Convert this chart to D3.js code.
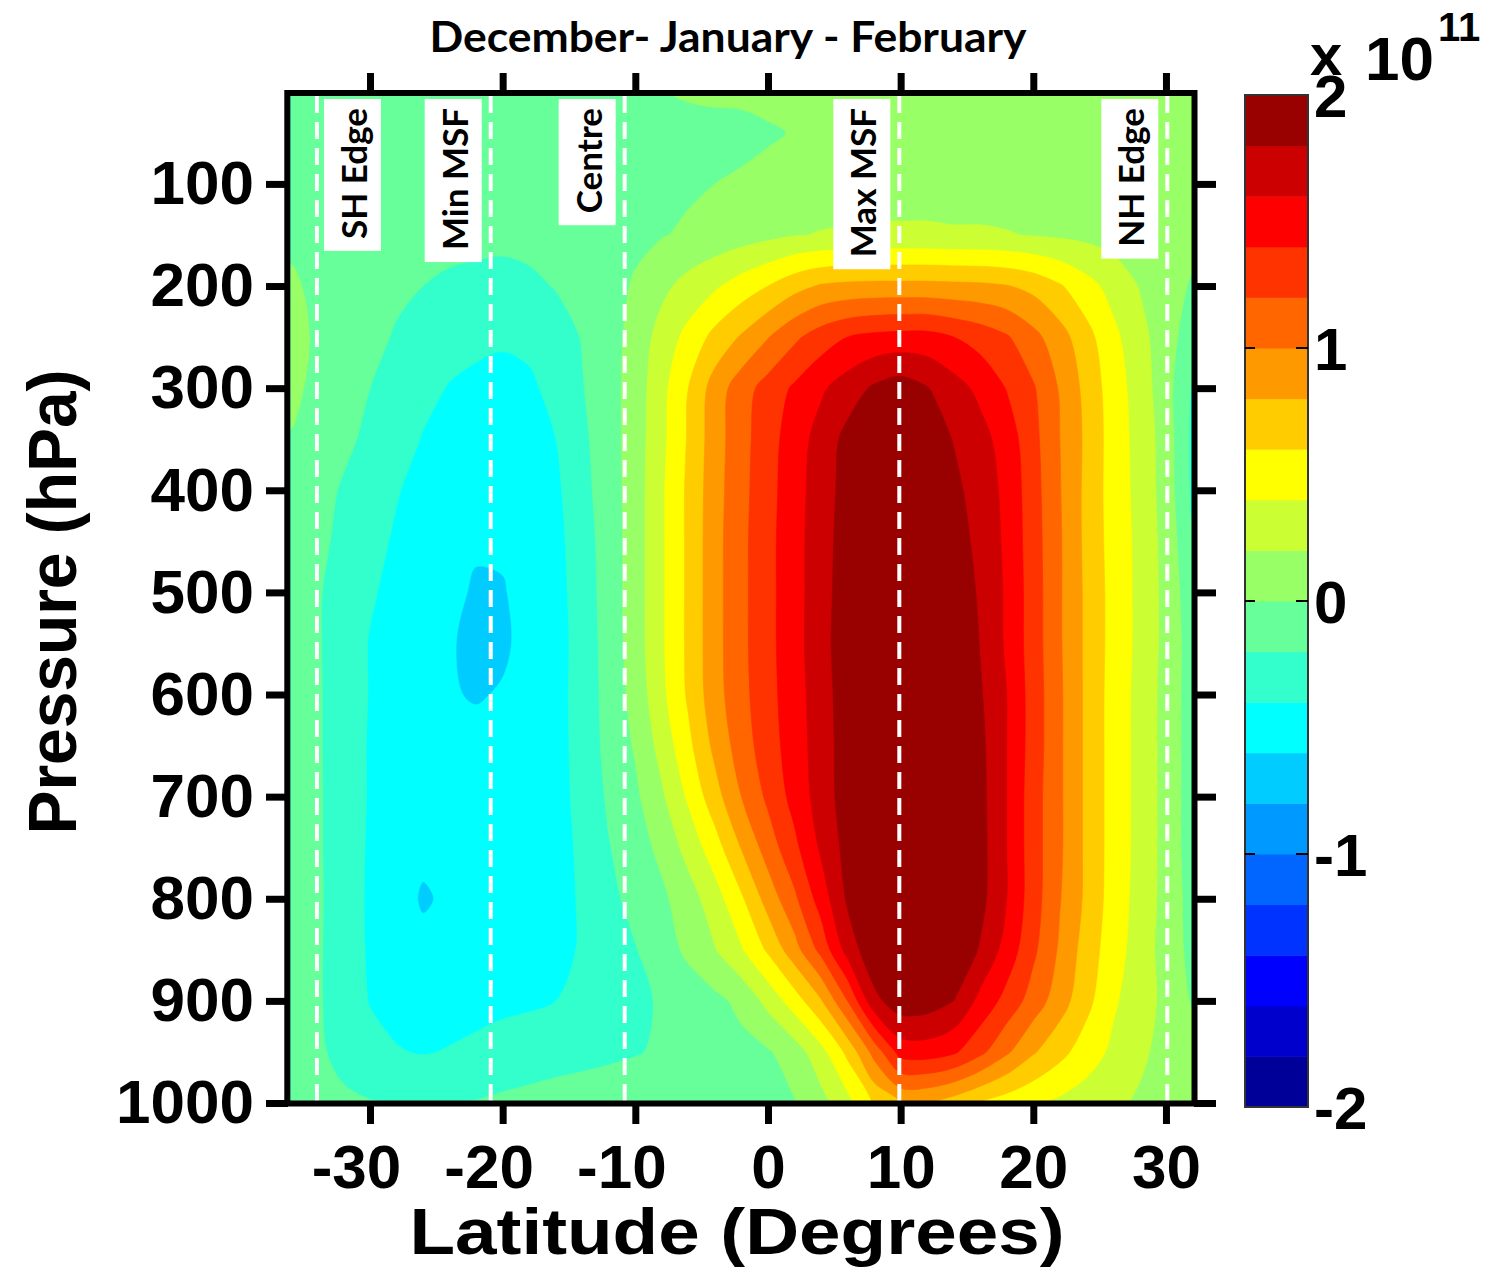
<!DOCTYPE html>
<html>
<head>
<meta charset="utf-8">
<script src="https://cdn.jsdelivr.net/npm/d3@7"></script>
<style>
  body { margin: 0; background: #fff; }
</style>
</head>
<body>
<div id="chart"></div>
<script>
// grid latitudes (columns) and pressure levels (rows)
const lats = [-36, -34, -32, -30, -28, -26, -24, -22, -20, -18, -16, -14, -12, -10, -8, -6, -4, -2,
  0, 2, 4, 6, 8, 10, 12, 14, 16, 18, 20, 22, 24, 26, 28, 30, 32];
const pressures = [10, 50, 100, 150, 200, 250, 300, 350, 400, 450, 500, 550, 600, 650, 700, 750, 800, 850, 900, 950, 1000];

// mass streamfunction, x 10^11, one row per pressure level
const msf = [
  [-0.08,-0.08,-0.08,-0.08,-0.08,-0.08,-0.08,-0.08,-0.08,-0.08,-0.07,-0.06,-0.05,-0.03,-0.01,0.02,0.03,0.03,0.05,0.07,0.08,0.09,0.1,0.1,0.1,0.1,0.1,0.1,0.1,0.1,0.1,0.1,0.1,0.1,0.1],
  [-0.08,-0.08,-0.08,-0.08,-0.09,-0.09,-0.09,-0.09,-0.09,-0.09,-0.09,-0.08,-0.08,-0.08,-0.07,-0.06,-0.05,-0.04,-0.02,0.01,0.04,0.06,0.08,0.1,0.1,0.1,0.1,0.1,0.1,0.1,0.1,0.1,0.1,0.09,0.08],
  [-0.06,-0.07,-0.08,-0.09,-0.1,-0.1,-0.11,-0.11,-0.11,-0.11,-0.1,-0.09,-0.08,-0.07,-0.05,-0.03,0.0,0.02,0.05,0.08,0.1,0.11,0.12,0.12,0.12,0.12,0.12,0.11,0.11,0.1,0.09,0.08,0.07,0.06,0.05],
  [-0.04,-0.06,-0.08,-0.09,-0.11,-0.12,-0.13,-0.14,-0.15,-0.14,-0.12,-0.1,-0.07,-0.04,-0.01,0.03,0.07,0.11,0.15,0.19,0.21,0.22,0.23,0.23,0.23,0.22,0.22,0.21,0.19,0.17,0.15,0.12,0.1,0.07,0.05],
  [0.03,-0.04,-0.08,-0.12,-0.16,-0.2,-0.24,-0.26,-0.27,-0.24,-0.19,-0.14,-0.07,0.02,0.15,0.27,0.37,0.49,0.6,0.73,0.82,0.85,0.86,0.86,0.86,0.85,0.84,0.81,0.74,0.62,0.47,0.33,0.19,0.08,-0.02],
  [0.05,-0.02,-0.08,-0.14,-0.22,-0.28,-0.33,-0.36,-0.38,-0.36,-0.29,-0.19,-0.08,0.07,0.28,0.46,0.66,0.82,0.99,1.16,1.3,1.4,1.45,1.47,1.47,1.4,1.32,1.22,1.06,0.88,0.67,0.45,0.27,0.08,-0.1],
  [0.04,-0.04,-0.12,-0.2,-0.28,-0.35,-0.41,-0.44,-0.45,-0.43,-0.35,-0.21,-0.08,0.09,0.34,0.6,0.89,1.11,1.28,1.43,1.57,1.7,1.83,1.9,1.81,1.68,1.55,1.39,1.22,0.98,0.74,0.5,0.31,0.08,-0.22],
  [-0.01,-0.07,-0.16,-0.24,-0.32,-0.41,-0.46,-0.49,-0.5,-0.47,-0.4,-0.24,-0.09,0.1,0.35,0.62,0.91,1.13,1.32,1.5,1.68,1.86,1.97,2.02,1.92,1.79,1.67,1.51,1.26,1.0,0.76,0.51,0.33,0.11,-0.25],
  [-0.06,-0.13,-0.22,-0.3,-0.39,-0.45,-0.5,-0.54,-0.55,-0.53,-0.44,-0.26,-0.1,0.1,0.37,0.64,0.92,1.14,1.33,1.52,1.7,1.88,2.0,2.06,2.05,1.85,1.71,1.55,1.28,1.01,0.75,0.51,0.34,0.11,-0.24],
  [-0.08,-0.15,-0.25,-0.35,-0.42,-0.48,-0.53,-0.58,-0.58,-0.54,-0.46,-0.29,-0.11,0.1,0.37,0.64,0.93,1.15,1.34,1.53,1.71,1.9,2.05,2.1,2.1,1.9,1.74,1.56,1.29,1.02,0.75,0.52,0.35,0.13,-0.18],
  [-0.09,-0.18,-0.28,-0.38,-0.45,-0.51,-0.56,-0.62,-0.61,-0.55,-0.47,-0.31,-0.11,0.1,0.37,0.64,0.93,1.15,1.34,1.53,1.71,1.92,2.08,2.15,2.15,1.95,1.77,1.57,1.3,1.02,0.76,0.53,0.35,0.14,-0.13],
  [-0.09,-0.18,-0.29,-0.41,-0.48,-0.54,-0.59,-0.63,-0.62,-0.56,-0.48,-0.32,-0.12,0.1,0.37,0.64,0.93,1.15,1.34,1.53,1.72,1.93,2.1,2.18,2.18,2.05,1.79,1.57,1.3,1.02,0.76,0.53,0.35,0.14,-0.1],
  [-0.09,-0.18,-0.28,-0.41,-0.48,-0.54,-0.59,-0.61,-0.59,-0.55,-0.47,-0.32,-0.13,0.07,0.35,0.63,0.92,1.14,1.33,1.52,1.7,1.92,2.1,2.2,2.2,2.05,1.82,1.6,1.31,1.03,0.76,0.52,0.34,0.13,-0.1],
  [-0.09,-0.18,-0.28,-0.42,-0.48,-0.52,-0.55,-0.56,-0.56,-0.54,-0.47,-0.33,-0.14,0.02,0.27,0.55,0.85,1.1,1.31,1.5,1.7,1.9,2.08,2.2,2.2,2.08,1.85,1.6,1.31,1.03,0.76,0.52,0.34,0.13,-0.1],
  [-0.09,-0.18,-0.27,-0.42,-0.48,-0.52,-0.54,-0.55,-0.55,-0.53,-0.46,-0.35,-0.17,-0.04,0.17,0.43,0.72,1.0,1.24,1.47,1.69,1.9,2.08,2.2,2.2,2.08,1.86,1.6,1.29,1.03,0.76,0.52,0.34,0.13,-0.1],
  [-0.09,-0.18,-0.27,-0.43,-0.5,-0.56,-0.57,-0.57,-0.56,-0.53,-0.46,-0.37,-0.21,-0.09,0.05,0.27,0.51,0.81,1.09,1.35,1.63,1.87,2.05,2.18,2.2,2.1,1.87,1.6,1.29,1.03,0.76,0.52,0.34,0.13,-0.1],
  [-0.09,-0.18,-0.26,-0.44,-0.52,-0.62,-0.57,-0.56,-0.55,-0.53,-0.46,-0.38,-0.25,-0.14,-0.04,0.11,0.31,0.57,0.88,1.16,1.49,1.83,2.02,2.15,2.18,2.08,1.86,1.6,1.29,1.01,0.76,0.51,0.33,0.13,-0.08],
  [-0.09,-0.18,-0.27,-0.43,-0.5,-0.55,-0.55,-0.55,-0.54,-0.52,-0.46,-0.38,-0.3,-0.21,-0.09,0.04,0.19,0.38,0.63,0.92,1.26,1.68,1.95,2.08,2.1,1.98,1.78,1.52,1.24,0.97,0.71,0.49,0.31,0.12,-0.06],
  [-0.09,-0.18,-0.27,-0.41,-0.45,-0.47,-0.47,-0.46,-0.45,-0.43,-0.4,-0.35,-0.29,-0.24,-0.18,-0.11,-0.05,0.05,0.26,0.5,0.78,1.2,1.74,1.92,1.9,1.8,1.54,1.33,1.11,0.89,0.66,0.43,0.29,0.15,-0.02],
  [-0.09,-0.17,-0.25,-0.33,-0.39,-0.41,-0.39,-0.36,-0.31,-0.29,-0.27,-0.25,-0.23,-0.21,-0.18,-0.14,-0.1,-0.06,-0.02,0.1,0.33,0.65,1.07,1.48,1.5,1.43,1.25,1.03,0.82,0.66,0.5,0.36,0.23,0.15,0.08],
  [-0.08,-0.12,-0.17,-0.19,-0.21,-0.21,-0.21,-0.19,-0.17,-0.15,-0.13,-0.12,-0.11,-0.1,-0.09,-0.08,-0.07,-0.06,-0.04,-0.01,0.13,0.33,0.62,0.8,0.79,0.7,0.58,0.5,0.43,0.36,0.3,0.23,0.18,0.14,0.1]
];

// contour levels (lower bound of each band) and their colours
const levels = [-2, -1.8, -1.6, -1.4, -1.2, -1, -0.8, -0.6, -0.4, -0.2, 0, 0.2, 0.4, 0.6, 0.8, 1, 1.2, 1.4, 1.6, 1.8];
const levelColors = ['#000099', '#0000cc', '#0000ff', '#0033ff', '#0066ff', '#0099ff', '#00ccff', '#00ffff', '#33ffcc', '#66ff99',
  '#99ff66', '#ccff33', '#ffff00', '#ffcc00', '#ff9900', '#ff6600', '#ff3300', '#ff0000', '#cc0000', '#990000'];

const latTicks = [-30, -20, -10, 0, 10, 20, 30];
const pTicks = [100, 200, 300, 400, 500, 600, 700, 800, 900, 1000];
const cbTicks = [-2, -1, 0, 1, 2];
const cbInnerTicks = [-1, 0, 1];

const markerNames = ['SH Edge', 'Min MSF', 'Centre', 'Max MSF', 'NH Edge'];
const markerLats = [-34.0, -20.9, -10.8, 9.9, 30.1];
const markerSide = ['right', 'left', 'left', 'left', 'left'];

const width = 1496, height = 1267;
const axisFont = '"Liberation Sans", Arial, sans-serif';
const labelFont = 'Lato, "Open Sans", sans-serif';

const svg = d3.select('#chart').append('svg')
  .attr('width', width)
  .attr('height', height)
  .style('display', 'block');

svg.append('rect').attr('width', width).attr('height', height).attr('fill', '#fff');

const x = d3.scaleLinear().domain([-36, 32]).range([290.4, 1192.5]);
const y = d3.scaleLinear().domain([10, 1000]).range([92, 1103]);

// grid index -> coordinate (piecewise, pressure rows are not evenly spaced);
// the half cell outside the grid is pushed past the frame and clipped away
const latAt = d3.scaleLinear().domain(d3.range(lats.length)).range(lats);
const presAt = d3.scaleLinear().domain(d3.range(pressures.length)).range(pressures);
const toPx = ([gx, gy]) => [x(latAt(gx - 0.5)), y(presAt(gy - 0.5))];

const ringLine = d3.line().curve(d3.curveCatmullRomClosed.alpha(0.5));
function contourPath(geo) {
  return geo.coordinates.map(poly => poly.map(ring => {
    const pts = [];
    ring.slice(0, -1).forEach(p => {
      const q = toPx(p);
      const last = pts[pts.length - 1];
      if (!last || Math.abs(last[0] - q[0]) > 0.01 || Math.abs(last[1] - q[1]) > 0.01) pts.push(q);
    });
    return ringLine(pts);
  }).join('')).join('');
}

const contours = d3.contours()
  .size([lats.length, pressures.length])
  .thresholds(levels)(msf.flat());

svg.append('clipPath').attr('id', 'plot-clip')
  .append('rect')
    .attr('x', x(-36)).attr('y', y(10))
    .attr('width', x(32) - x(-36))
    .attr('height', y(1000) - y(10));

svg.append('g')
  .attr('clip-path', 'url(#plot-clip)')
  .selectAll('path')
  .data(contours)
  .join('path')
    .attr('d', contourPath)
    .attr('fill', d => levelColors[levels.indexOf(d.value)])
    .attr('stroke', d => levelColors[levels.indexOf(d.value)])
    .attr('stroke-width', 0.6);

// dashed marker lines with white label boxes
const mk = svg.append('g');
markerLats.forEach((lat, i) => {
  const lx = x(lat);
  mk.append('line')
    .attr('x1', lx).attr('x2', lx)
    .attr('y1', 96).attr('y2', 1101)
    .attr('stroke', '#fff')
    .attr('stroke-width', 4)
    .attr('stroke-dasharray', '17 9');

  const bx = markerSide[i] === 'right' ? lx + 7 : lx - 66;
  const box = mk.append('rect')
    .attr('x', bx).attr('y', 99)
    .attr('width', 57)
    .attr('fill', '#fff');
  const t = mk.append('text')
    .attr('transform', `translate(${bx + 43},108) rotate(-90)`)
    .attr('text-anchor', 'end')
    .attr('font-family', labelFont)
    .attr('font-weight', 700)
    .attr('font-size', 35)
    .attr('fill', '#000')
    .text(markerNames[i]);
  const len = t.node().getComputedTextLength();
  box.attr('height', len + 21);
});

// frame
svg.append('rect')
  .attr('x', 287.3).attr('y', 93)
  .attr('width', 1194.5 - 287.3)
  .attr('height', 1103.5 - 93)
  .attr('fill', 'none')
  .attr('stroke', '#000')
  .attr('stroke-width', 6);

function styleAxis(g) {
  g.select('.domain').remove();
  g.selectAll('.tick line').attr('stroke', '#000').attr('stroke-width', 7);
  g.selectAll('.tick text')
    .attr('fill', '#000')
    .attr('font-family', axisFont)
    .attr('font-weight', 'bold')
    .attr('font-size', 62);
}

svg.append('g')
  .attr('transform', 'translate(0,1104)')
  .call(d3.axisBottom(x).tickValues(latTicks).tickSize(20).tickPadding(20).tickFormat(d => String(d)))
  .call(styleAxis)
  .call(g => g.selectAll('.tick text').attr('dx', d => d < 0 ? -14 : 0));

svg.append('g')
  .attr('transform', 'translate(0,93)')
  .call(d3.axisTop(x).tickValues(latTicks).tickSize(20).tickFormat(''))
  .call(styleAxis);

svg.append('g')
  .attr('transform', 'translate(288,0)')
  .call(d3.axisLeft(y).tickValues(pTicks).tickSize(22).tickPadding(12).tickFormat(d => String(d)))
  .call(styleAxis);

svg.append('g')
  .attr('transform', 'translate(1194,0)')
  .call(d3.axisRight(y).tickValues(pTicks).tickSize(22).tickFormat(''))
  .call(styleAxis);

// axis titles
svg.append('text')
  .attr('x', 737).attr('y', 1254)
  .attr('text-anchor', 'middle')
  .attr('font-family', axisFont)
  .attr('font-weight', 'bold')
  .attr('font-size', 64)
  .attr('textLength', 655)
  .attr('lengthAdjust', 'spacingAndGlyphs')
  .text('Latitude (Degrees)');

svg.append('text')
  .attr('transform', 'translate(76,602) rotate(-90)')
  .attr('text-anchor', 'middle')
  .attr('font-family', axisFont)
  .attr('font-weight', 'bold')
  .attr('font-size', 68)
  .attr('textLength', 465)
  .attr('lengthAdjust', 'spacingAndGlyphs')
  .text('Pressure (hPa)');

svg.append('text')
  .attr('x', 728).attr('y', 52)
  .attr('text-anchor', 'middle')
  .attr('font-family', labelFont)
  .attr('font-weight', 700)
  .attr('font-size', 42)
  .attr('textLength', 597)
  .attr('lengthAdjust', 'spacingAndGlyphs')
  .text('December- January - February');

// colour bar
const cb = d3.scaleLinear().domain([-2, 2]).range([1107, 95]);
const cbx = 1245, cbw = 63;
const cbg = svg.append('g');
cbg.selectAll('rect')
  .data(levels)
  .join('rect')
    .attr('x', cbx)
    .attr('y', d => cb(d + 0.2))
    .attr('width', cbw)
    .attr('height', d => cb(d) - cb(d + 0.2) + 0.5)
    .attr('fill', (d, i) => levelColors[i]);
cbg.append('rect')
  .attr('x', cbx).attr('y', cb(2))
  .attr('width', cbw).attr('height', cb(-2) - cb(2))
  .attr('fill', 'none')
  .attr('stroke', '#333')
  .attr('stroke-width', 2);
cbInnerTicks.forEach(v => {
  cbg.append('line').attr('x1', cbx).attr('x2', cbx + 10).attr('y1', cb(v)).attr('y2', cb(v))
    .attr('stroke', '#000').attr('stroke-width', 2);
  cbg.append('line').attr('x1', cbx + cbw - 12).attr('x2', cbx + cbw).attr('y1', cb(v)).attr('y2', cb(v))
    .attr('stroke', '#000').attr('stroke-width', 2);
});
cbg.selectAll('text.cbl')
  .data(cbTicks)
  .join('text')
    .attr('class', 'cbl')
    .attr('x', 1314)
    .attr('y', d => cb(d))
    .attr('dy', '0.36em')
    .attr('font-family', axisFont)
    .attr('font-weight', 'bold')
    .attr('font-size', 60)
    .attr('fill', '#000')
    .text(d => String(d));

// x 10^11 exponent
svg.append('text')
  .attr('x', 1310).attr('y', 75)
  .attr('font-family', axisFont).attr('font-weight', 'bold').attr('font-size', 58)
  .text('x');
svg.append('text')
  .attr('x', 1365).attr('y', 80)
  .attr('font-family', axisFont).attr('font-weight', 'bold').attr('font-size', 62)
  .text('10');
svg.append('text')
  .attr('x', 1438).attr('y', 41)
  .attr('font-family', axisFont).attr('font-weight', 'bold').attr('font-size', 40)
  .text('11');
</script>
</body>
</html>
